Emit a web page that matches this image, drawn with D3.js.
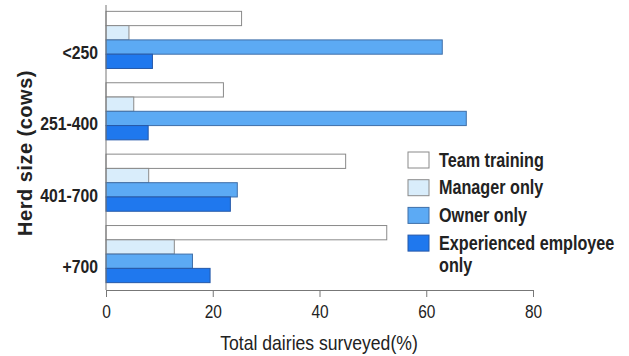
<!DOCTYPE html>
<html>
<head>
<meta charset="utf-8">
<script src="https://cdn.jsdelivr.net/npm/d3@7"></script>
<style>
  html, body { margin: 0; padding: 0; background: #ffffff; }
  svg { display: block; }
  text { font-family: "Liberation Sans", Arial, Helvetica, sans-serif; fill: #222; }
</style>
</head>
<body>
<svg id="chart" width="629" height="356"></svg>
<script>
// Herd size groups (top to bottom)
const categories = ["<250", "251-400", "401-700", "+700"];
// Who handles training, share of dairies surveyed (%)
const seriesNames = ["Team training", "Manager only", "Owner only", "Experienced employee only"];
const teamTraining = [25.4, 22.0, 44.9, 52.6];
const managerOnly = [4.3, 5.2, 8.0, 12.8];
const ownerOnly = [63.0, 67.5, 24.6, 16.2];
const experiencedOnly = [8.7, 7.9, 23.3, 19.5];
const xTicks = [0, 20, 40, 60, 80];
const xTitle = "Total dairies surveyed(%)";
const yTitle = "Herd size (cows)";

const seriesValues = [teamTraining, managerOnly, ownerOnly, experiencedOnly];
const fills = ["#ffffff", "#d9edfb", "#5caaf4", "#1f78ee"];
const strokes = ["#8a8a8a", "#8a8a8a", "#3f6fa8", "#2558a8"];

// Condensed lettering: squeeze glyphs horizontally around the anchor point
const NARROW = 0.83;
function place(sel, px, py, sx) {
  sel.attr("x", 0).attr("y", 0)
    .attr("transform", (d, i) => `translate(${typeof px === "function" ? px(d, i) : px},${typeof py === "function" ? py(d, i) : py}) scale(${sx},1)`);
}

const svg = d3.select("#chart");

const x = d3.scaleLinear().domain([0, 80]).range([106, 533]);
const y = d3.scaleBand().domain(categories).range([3, 290])
  .paddingInner(0.2).paddingOuter(0.11);
const ySub = d3.scaleBand().domain(d3.range(seriesNames.length))
  .range([0, y.bandwidth()]).padding(0);

// Bars
const groups = svg.append("g").selectAll("g")
  .data(categories)
  .join("g")
  .attr("transform", d => `translate(0,${y(d)})`);

groups.selectAll("rect")
  .data((c, ci) => seriesValues.map((vals, si) => ({ si, v: vals[ci] })))
  .join("rect")
  .attr("x", x(0))
  .attr("y", d => ySub(d.si) + 0.5)
  .attr("width", d => x(d.v) - x(0))
  .attr("height", ySub.bandwidth())
  .attr("fill", d => fills[d.si])
  .attr("stroke", d => strokes[d.si])
  .attr("stroke-width", 1);

// X axis
const xAxis = d3.axisBottom(x).tickValues(xTicks).tickSize(7).tickPadding(5).tickFormat(d3.format("d"));
const gx = svg.append("g").attr("transform", "translate(0,290)").call(xAxis);
gx.select(".domain").attr("stroke", "#777");
gx.selectAll(".tick line").attr("stroke", "#777");
gx.selectAll(".tick text")
  .attr("font-size", 18)
  .attr("font-family", null)
  .attr("fill", "#222")
  .attr("dy", null)
  .attr("dominant-baseline", "central");
place(gx.selectAll(".tick text"), 0, 22, 0.86);

// Y axis line
svg.append("line")
  .attr("x1", x(0)).attr("x2", x(0))
  .attr("y1", 5).attr("y2", 290)
  .attr("stroke", "#777");

// Category labels
const catLabels = svg.append("g").selectAll("text")
  .data(categories)
  .join("text")
  .attr("text-anchor", "end")
  .attr("dominant-baseline", "central")
  .attr("font-size", 19)
  .attr("font-weight", "bold")
  .text(d => d);
place(catLabels, 98, d => y(d) + y.bandwidth() / 2 + 13, NARROW);

// Axis titles
const xt = svg.append("text")
  .attr("text-anchor", "middle")
  .attr("dominant-baseline", "central")
  .attr("font-size", 20)
  .text(xTitle);
place(xt, 319, 343, 0.88);

svg.append("text")
  .attr("transform", "translate(25,153) rotate(-90)")
  .attr("text-anchor", "middle")
  .attr("dominant-baseline", "central")
  .attr("font-size", 20)
  .attr("font-weight", "bold")
  .attr("letter-spacing", 0.5)
  .text(yTitle);

// Legend
const legend = svg.append("g").attr("transform", "translate(408,152)");
const rows = legend.selectAll("g")
  .data(seriesNames)
  .join("g")
  .attr("transform", (d, i) => `translate(0,${i * 27.7})`);
rows.append("rect")
  .attr("width", 21).attr("height", 16)
  .attr("fill", (d, i) => fills[i])
  .attr("stroke", (d, i) => strokes[i]);
rows.append("text")
  .attr("transform", `translate(31,8) scale(${NARROW},1)`)
  .attr("dominant-baseline", "central")
  .attr("font-size", 19.5)
  .attr("font-weight", "bold")
  .each(function (d) {
    const words = d.split(" ");
    const lines = words.length > 2 ? [words.slice(0, 2).join(" "), words.slice(2).join(" ")] : [d];
    d3.select(this).selectAll("tspan")
      .data(lines)
      .join("tspan")
      .attr("x", 0)
      .attr("dy", (l, k) => k === 0 ? 0 : 22)
      .text(l => l);
  });
</script>
</body>
</html>
